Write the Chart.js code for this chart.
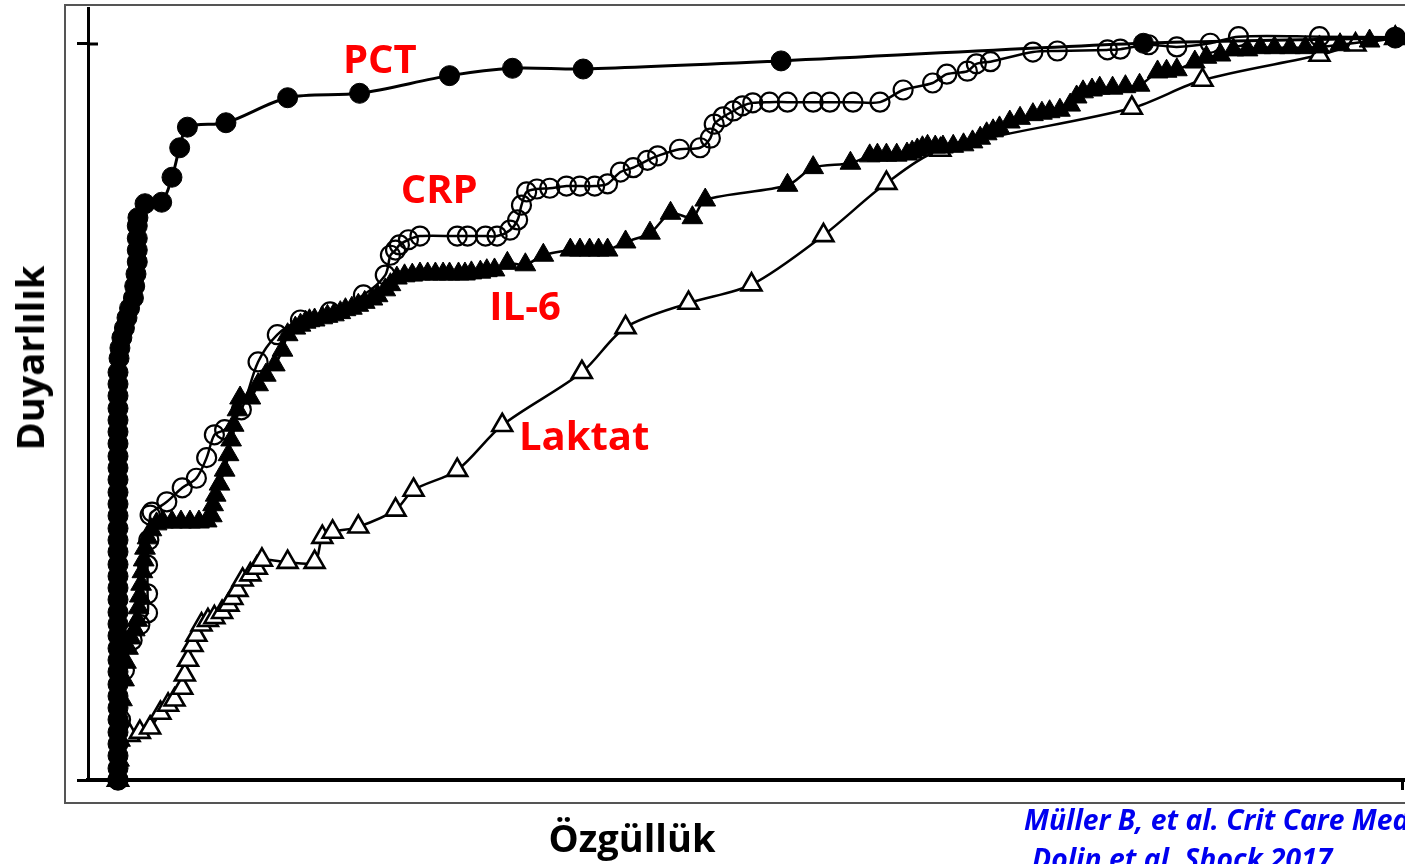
<!DOCTYPE html>
<html>
<head>
<meta charset="utf-8">
<script src="https://cdn.jsdelivr.net/npm/chart.js@4.4.1/dist/chart.umd.min.js"></script>
<style>
html,body{margin:0;padding:0;background:#fff;overflow:hidden;}
#wrap{position:relative;width:1405px;height:864px;overflow:hidden;}
#frame{position:absolute;left:64px;top:4px;width:1420px;height:800px;border:2px solid #555;box-sizing:border-box;}
#c{position:absolute;left:0;top:0;}
.t{position:absolute;white-space:nowrap;line-height:1;font-family:"Open Sans",sans-serif;font-weight:700;}
#ytitle{left:29px;top:358px;font-size:38px;color:#000;transform:translate(-50%,-50%) rotate(-90deg);}
#xtitle{left:632px;top:818px;font-size:38px;color:#000;transform:translateX(-50%);}
.cite{color:#0000F0;font-style:italic;font-size:28.3px;}
</style>
</head>
<body>
<div id="wrap">
  <div id="frame"></div>
  <canvas id="c" width="1405" height="864"></canvas>
  <div class="t" id="ytitle">Duyarlılık</div>
  <div class="t" id="xtitle">Özgüllük</div>
  <div class="t cite" style="left:1024px;top:805px;">Müller B, et al. Crit Care Med</div>
  <div class="t cite" style="left:1032px;top:844px;">Dolin et al. Shock 2017</div>
</div>
<script>
// ---- Data (percent): x = 1 - specificity, y = sensitivity ----
const pctFpr = [0,0,0,0,0,0,0,0,0,0,0,0,0,0,0,0,0,0,0,0,0,0,0,0,0,0,0,0,0,0,0,0,0,0,0,
  0.08,0.15,0.3,0.5,0.7,0.9,1.2,1.3,1.4,1.5,1.5,1.5,1.5,1.55,2.1,3.4,4.2,4.8,5.4,8.4,13.2,18.8,25.8,30.7,36.2,51.6,79.8,99.4];
const pctTpr = [0,1.6,3.3,4.9,6.5,8.2,9.8,11.4,13.0,14.7,16.3,17.9,19.6,21.2,22.8,24.5,26.1,27.7,29.3,31.0,32.6,34.2,35.9,37.5,39.1,40.8,42.4,44.0,45.7,47.3,48.9,50.5,52.2,53.8,55.4,
  57.3,58.7,60.1,61.4,62.8,64.1,65.5,67.1,68.75,70.4,72.0,73.6,75.3,76.4,78.3,78.5,81.9,85.9,88.7,89.3,92.7,93.3,95.7,96.7,96.6,97.7,100.1,100.8];

const crpFpr = [0,0.2,0.5,1.1,1.7,2.3,2.3,2.3,2.4,2.5,2.65,3.8,5.0,6.1,6.9,7.5,8.3,9.6,10.9,12.4,14.2,16.5,19.1,20.8,21.2,21.6,21.9,22.6,23.5,26.4,27.2,28.6,29.5,30.5,31.1,31.4,31.8,32.6,33.6,34.9,35.95,37.1,38.1,39.1,40.1,41.2,42.0,43.7,45.3,46.1,46.4,47.1,47.9,48.6,49.4,50.7,52.1,54.1,55.4,57.2,59.3,61.1,63.4,64.5,66.1,66.8,67.9,71.2,73.1,77.0,78.0,80.2,82.4,85.0,87.2,93.5,99.4];
const crpTpr = [0,8.2,14.9,19.0,21.1,22.7,25.3,29.2,32.6,36.0,36.4,37.8,39.7,41.0,43.8,46.9,47.6,50.3,56.8,60.5,62.5,63.6,65.9,68.6,71.3,72.0,72.7,73.4,73.9,73.9,73.9,73.9,73.9,74.7,76.1,78.1,79.9,80.3,80.4,80.7,80.7,80.7,81.0,82.6,83.2,84.2,84.8,85.7,85.9,87.2,89.1,90.1,90.9,91.6,92.0,92.1,92.1,92.1,92.1,92.1,92.1,93.75,94.7,95.9,96.3,97.3,97.6,98.9,99.05,99.2,99.3,99.9,99.6,100.1,101.0,101.0,100.9];

const il6Fpr = [0,0.08,0.16,0.23,0.31,0.47,0.62,0.78,1.0,1.3,1.5,1.6,1.7,1.8,1.9,2.0,2.1,2.3,2.6,3.0,
  3.5,4.2,4.9,5.6,6.3,6.9,7.3,7.4,7.6,7.9,8.3,8.6,8.8,9.0,9.3,9.5,10.3,10.9,11.5,12.2,
  12.8,13.2,13.8,14.2,14.6,14.9,15.3,15.9,16.3,16.8,17.3,17.7,18.2,18.7,19.2,19.8,20.2,20.8,21.2,21.7,
  22.3,22.9,23.5,24.1,24.7,25.3,25.8,26.5,27.0,27.5,28.2,28.7,29.3,30.3,31.7,33.1,35.2,35.95,36.7,37.4,
  38.1,39.5,41.4,43.0,44.7,45.7,52.1,54.1,57.0,58.5,59.1,59.8,60.6,61.4,61.8,62.2,62.6,63.0,63.6,64.2,
  65.0,65.8,66.5,67.1,67.6,68.1,68.6,69.4,70.2,71.2,71.9,72.5,73.3,74.1,74.6,75.1,75.8,76.4,77.4,78.4,
  79.5,80.9,81.6,82.4,83.8,84.7,85.8,86.8,87.9,88.9,90.0,91.2,92.4,93.5,95.1,97.4,99.4];
const il6Tpr = [0,2.7,5.4,8.2,10.9,13.6,16.0,17.9,19.3,20.4,21.7,23.4,25.0,26.6,28.3,29.9,31.5,32.9,34.0,34.8,
  35.05,35.05,35.05,35.05,35.05,35.2,35.9,37.4,38.7,40.2,42.1,44.2,46.2,48.2,50.3,51.9,51.9,53.7,55.0,56.4,
  58.4,60.5,61.4,61.8,62.2,62.4,62.5,62.8,63.0,63.2,63.5,63.9,64.1,64.5,64.9,65.35,65.8,66.6,67.3,68.2,
  68.5,68.6,68.75,68.75,68.75,68.75,68.75,68.75,68.75,68.9,69.0,69.2,69.3,70.2,70.0,71.3,72.0,72.0,72.0,72.0,
  72.0,73.1,74.3,77.0,76.4,78.8,80.8,83.2,83.8,84.8,84.9,84.9,84.9,85.05,85.3,85.6,85.9,86.1,86.0,86.0,
  86.1,86.3,86.7,87.2,87.8,88.2,88.6,89.4,89.9,90.4,90.6,90.8,91.0,91.7,92.8,93.5,93.75,94.0,94.0,94.2,
  94.4,96.2,96.3,96.5,97.55,98.2,98.5,99.2,99.2,99.5,99.5,99.5,99.5,99.6,99.9,100.4,100.9];

const lacFpr = [0,0.9,1.7,2.5,3.3,3.9,4.4,5.0,5.2,5.45,5.8,6.1,6.5,7.0,7.5,8.1,8.6,8.9,9.3,9.7,10.3,10.8,11.2,13.2,15.3,15.9,16.7,18.7,21.6,23.0,26.4,29.9,36.1,39.5,44.4,49.3,54.9,59.8,64.0,78.9,84.4,93.5,96.3,99.4];
const lacTpr = [0,6.1,6.5,7.1,9.1,10.2,10.9,12.5,14.3,16.3,18.3,19.7,21.1,21.7,22.1,22.8,23.8,24.7,25.8,27.2,27.9,28.8,29.9,29.6,29.6,33.0,33.7,34.4,36.7,39.4,42.1,48.2,55.4,61.5,64.8,67.3,74.0,81.1,85.6,91.3,95.1,98.5,99.9,100.8];

const seriesNames = ['PCT','CRP','IL-6','Laktat'];
const yTickValues = [0,100];
const xTickValues = [100];
// label anchors (data units) for the curve names
const labelFpr = [17.5,22.0,28.9,31.2];
const labelTpr = [96.1,78.4,62.5,44.8];

const pts = (xs,ys)=>xs.map((v,i)=>({x:v,y:ys[i]}));

const labelPlugin = {
  id:'curveLabels',
  afterDatasetsDraw(chart){
    const {ctx, chartArea, scales:{x,y}} = chart;
    ctx.save();
    // inner half of the tick at y = 100
    ctx.strokeStyle='#000'; ctx.lineWidth=3;
    ctx.beginPath();
    const yp = y.getPixelForValue(100);
    ctx.moveTo(chartArea.left, yp); ctx.lineTo(chartArea.left+10, yp); ctx.stroke();
    ctx.font = '700 40px "Open Sans"';
    ctx.fillStyle = '#FF0000';
    ctx.textBaseline='alphabetic';
    seriesNames.forEach((t,i)=>{
      ctx.fillText(t, x.getPixelForValue(labelFpr[i]), y.getPixelForValue(labelTpr[i]));
    });
    ctx.restore();
  }
};

const common = {borderColor:'#000', tension:0.3, clip:false, fill:false, pointBorderColor:'#000'};

new Chart(document.getElementById('c'), {
  type:'line',
  data:{datasets:[
    Object.assign({}, common, {label:'PCT', data:pts(pctFpr,pctTpr), borderWidth:3, pointStyle:'circle', pointRadius:10, pointBackgroundColor:'#000', pointBorderWidth:1}),
    Object.assign({}, common, {label:'CRP', data:pts(crpFpr,crpTpr), borderWidth:2.5, pointStyle:'circle', pointRadius:9.5, pointBackgroundColor:'rgba(0,0,0,0)', pointBorderWidth:2.2}),
    Object.assign({}, common, {label:'IL-6', data:pts(il6Fpr,il6Tpr), borderWidth:2.5, pointStyle:'triangle', pointRadius:12, pointBackgroundColor:'#000', pointBorderWidth:1}),
    Object.assign({}, common, {label:'Laktat', data:pts(lacFpr,lacTpr), borderWidth:2.5, pointStyle:'triangle', pointRadius:11.5, pointBackgroundColor:'#fff', pointBorderWidth:2.6})
  ]},
  options:{
    responsive:false, animation:false,
    layout:{autoPadding:false, padding:{left:77, top:8, right:0, bottom:74}},
    plugins:{legend:{display:false}, tooltip:{enabled:false}},
    scales:{
      x:{type:'linear', min:-2.335, max:100.156,
         afterBuildTicks:s=>{s.ticks = xTickValues.map(v=>({value:v}));},
         ticks:{display:false},
         grid:{display:true, drawOnChartArea:false, drawTicks:true, tickLength:10, tickWidth:3, tickColor:'#000'},
         border:{display:true, color:'#000', width:4}},
      y:{type:'linear', min:0, max:104.89,
         afterBuildTicks:s=>{s.ticks = yTickValues.map(v=>({value:v}));},
         ticks:{display:false},
         grid:{display:true, drawOnChartArea:false, drawTicks:true, tickLength:11, tickWidth:3, tickColor:'#000'},
         border:{display:true, color:'#000', width:3}}
    }
  },
  plugins:[labelPlugin]
});
</script>
</body>
</html>
